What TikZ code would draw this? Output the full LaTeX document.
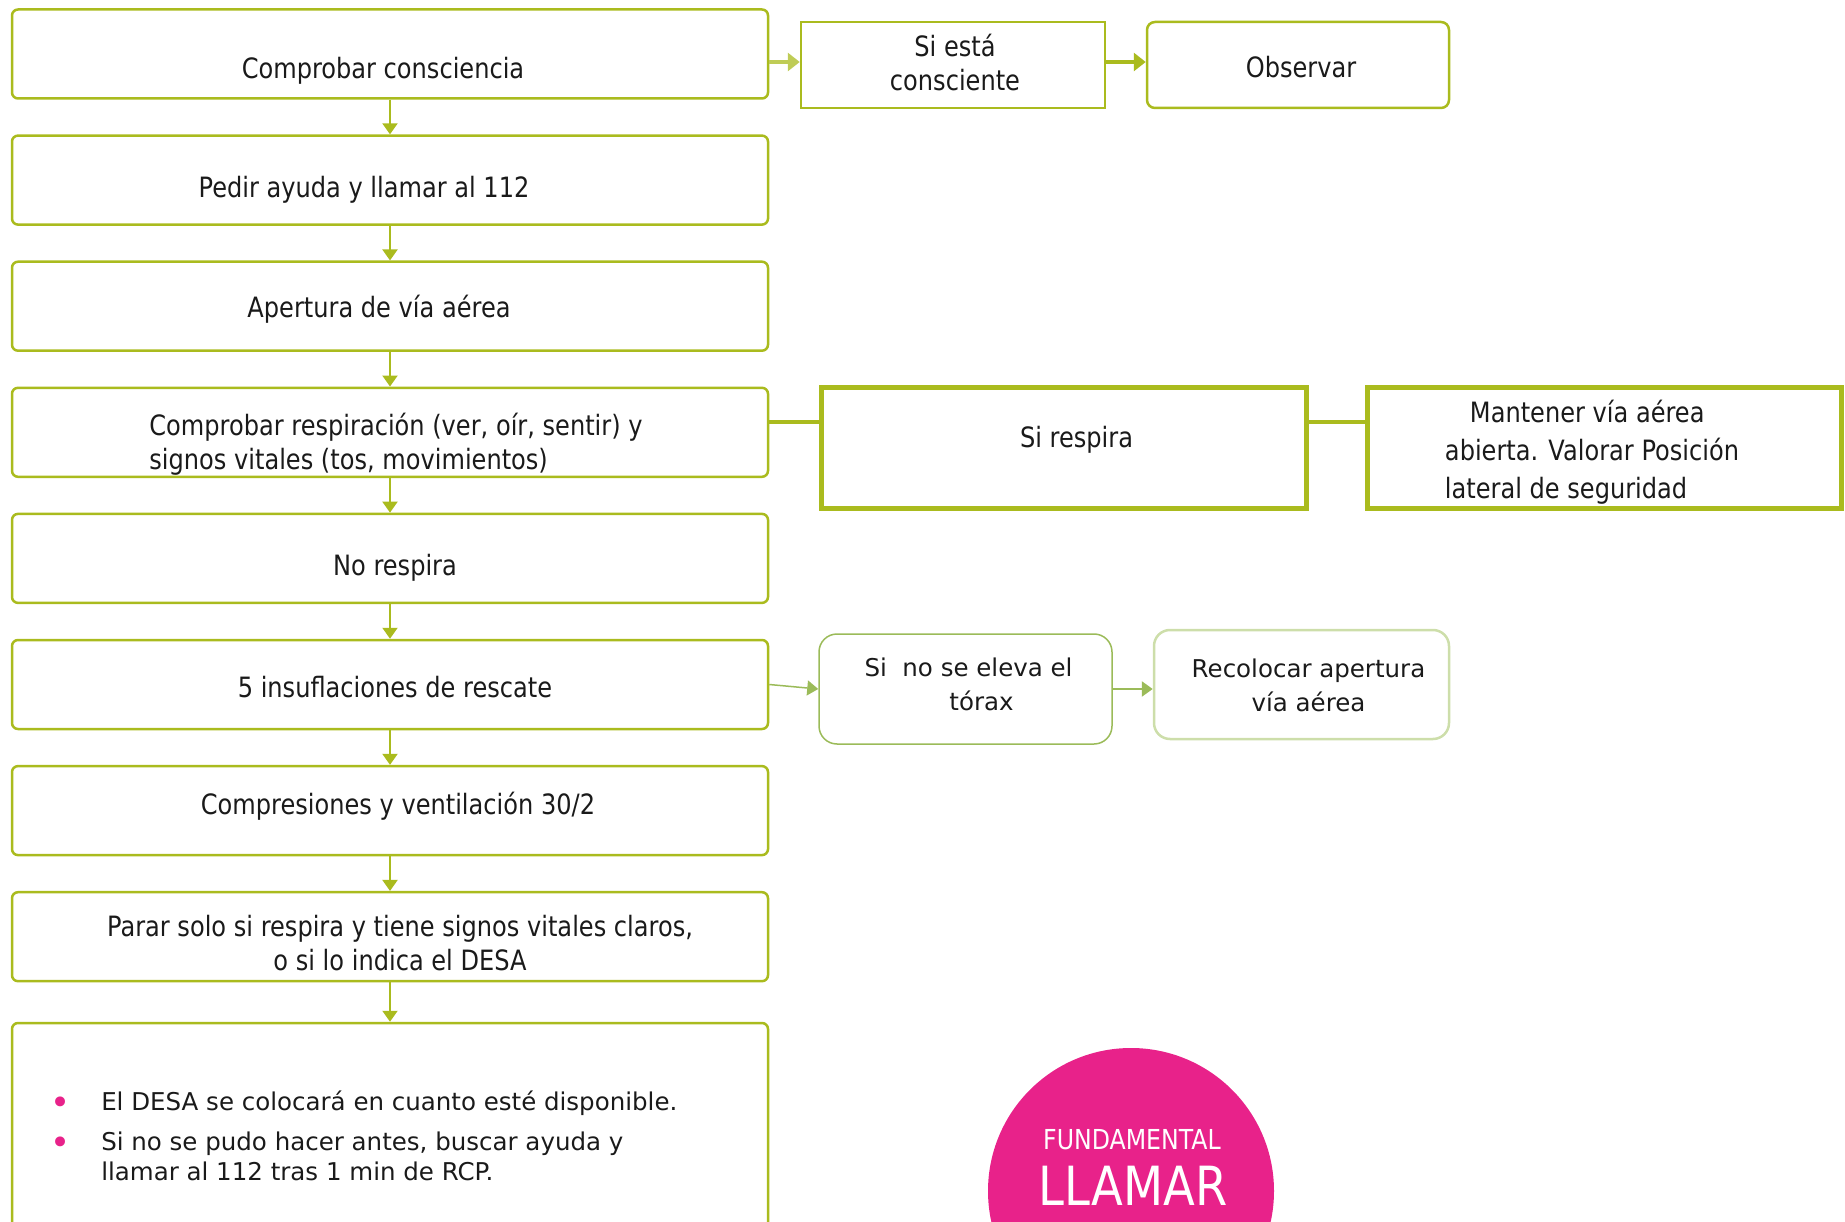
\documentclass[tikz,border=0pt]{standalone}
\usepackage{fontspec}
\setmainfont{DejaVu Sans}[FakeStretch=0.86]
\newfontfamily\widefont{DejaVu Sans}
\usetikzlibrary{arrows.meta}
\definecolor{olivebox}{RGB}{170,187,30}
\definecolor{lightbox}{RGB}{155,187,89}
\definecolor{paleedge}{RGB}{205,222,170}
\definecolor{rosa}{RGB}{232,34,138}
\definecolor{textc}{RGB}{26,26,26}
% move the text inside a box: #1 twice the x offset, #2 the raise
\newcommand{\ajuste}[3]{\raisebox{#2}[\height][\depth]{\hspace*{#1}#3}}
\newcommand{\punto}{\raisebox{-4.5pt}{\textcolor{rosa}{\fontsize{34}{30}\selectfont\textbullet}}}

\begin{document}
\begin{tikzpicture}[x=1pt,y=-1pt,>={Triangle[length=11pt,width=15pt]},node distance=126.1pt,
    main node/.style={draw=olivebox,line width=2.5pt,rounded corners=6pt,minimum width=756pt,minimum height=89pt,text=textc,font=\fontsize{28}{34}\selectfont},
    side node/.style={draw=olivebox,line width=2.5pt,text=textc,font=\fontsize{28}{34}\selectfont},
    soft node/.style={draw=lightbox,line width=1.5pt,rounded corners=18pt,text=textc,font=\widefont\fontsize{24.5}{34}\selectfont}]

    \useasboundingbox (0,0) rectangle (1845,1222);

    % main column
    \node[main node] (box1) at (390,54) {\ajuste{-14pt}{-16.5pt}{Comprobar consciencia}};
    \node[main node] (box2) [below of=box1] {\ajuste{-52pt}{-9.5pt}{Pedir ayuda y llamar al 112}};
    \node[main node] (box3) [below of=box2] {\ajuste{-22pt}{-3.5pt}{Apertura de vía aérea}};
    \node[main node] (box4) [below of=box3] {\ajuste{12pt}{-13pt}{\begin{tabular}{@{}l@{}}Comprobar respiración (ver, oír, sentir) y\\signos vitales (tos, movimientos)\end{tabular}}};
    \node[main node] (box5) [below of=box4] {\ajuste{10pt}{-9.5pt}{No respira}};
    \node[main node] (box6) [below of=box5] {\ajuste{10pt}{-2.5pt}{5 insuflaciones de rescate}};
    \node[main node] (box7) [below of=box6] {\ajuste{16pt}{4pt}{Compresiones y ventilación 30/2}};
    \node[main node] (box8) [below of=box7] {\ajuste{20pt}{-9.5pt}{\begin{tabular}{@{}c@{}}Parar solo si respira y tiene signos vitales claros,\\o si lo indica el DESA\end{tabular}}};
    \node[main node,minimum height=262pt] (box9) at (390,1154) {};

    \node[anchor=north west,font=\widefont\fontsize{24.5}{30}\selectfont,text=textc,inner sep=0pt] (notas) at (50,1089)
        {\begin{tabular}{@{}l@{\hspace{31pt}}l@{}}
            \punto & El DESA se colocará en cuanto esté disponible.\\[10pt]
            \punto & Si no se pudo hacer antes, buscar ayuda y\\
                   & llamar al 112 tras 1 min de RCP.
        \end{tabular}};

    % side branches
    \node[side node,minimum width=304pt,minimum height=86pt] (sie) at (953,65) {\ajuste{4pt}{-1.5pt}{\begin{tabular}{@{}c@{}}Si está\\consciente\end{tabular}}};
    \node[side node,rounded corners=8pt,minimum width=302pt,minimum height=86pt] (obs) at (1298,65) {\ajuste{6pt}{-2pt}{Observar}};
    \node[side node,line width=5pt,minimum width=485pt,minimum height=120pt] (resp) at (1063.5,448) {\ajuste{26pt}{8pt}{Si respira}};
    \node[side node,line width=5pt,minimum width=474pt,minimum height=120pt,font=\fontsize{28}{38}\selectfont] (mant) at (1604,448)
        {\ajuste{-24pt}{-5pt}{\begin{tabular}{@{}l@{}}\hspace*{25pt}Mantener vía aérea\\abierta. Valorar Posición\\lateral de seguridad\end{tabular}}};
    \node[soft node,minimum width=293pt,minimum height=110pt] (sino) at (965.5,689) {\ajuste{6pt}{2pt}{\begin{tabular}{@{}c@{}}Si\ \ no se eleva el\\\hspace*{26pt}tórax\end{tabular}}};
    \node[soft node,draw=paleedge,line width=2.5pt,rounded corners=16pt,minimum width=295pt,minimum height=109pt] (reco) at (1301.5,684.5) {\ajuste{14pt}{-3pt}{\begin{tabular}{@{}c@{}}Recolocar apertura\\vía aérea\end{tabular}}};

    % circle
    \node[circle,fill=rosa,minimum size=286pt] (circulo) at (1131,1191) {};
    \node[text=white,font=\fontsize{27.5}{30}\selectfont] (fund) at (1132,1140) {FUNDAMENTAL};
    \node[text=white,font=\fontsize{54}{60}\selectfont] (llamar) at (1133,1186) {LLAMAR};

    % connectors
    \foreach \a/\b in {box1/box2,box2/box3,box3/box4,box4/box5,box5/box6,box6/box7,box7/box8,box8/box9}
        \draw[->,olivebox,line width=2pt] (\a) -- (\b);

    \draw[->,olivebox!75,line width=4pt,>={Triangle[length=12pt,width=18pt]}] ([yshift=3pt]box1.east |- sie.west) -- ([yshift=3pt]sie.west);
    \draw[->,olivebox,line width=4pt,>={Triangle[length=12pt,width=18pt]}] ([yshift=3pt]sie.east) -- ([yshift=3pt]obs.west);
    \draw[olivebox,line width=4pt] ([yshift=10pt]box4.east) -- ([yshift=10pt]box4.east -| resp.west);
    \draw[olivebox,line width=4pt] ([yshift=10pt]box4.east -| resp.east) -- ([yshift=10pt]box4.east -| mant.west);
    \draw[->,lightbox,line width=1.5pt] (box6.east) -- (sino.west);
    \draw[->,lightbox,line width=2.5pt] (sino.east) -- (sino.east -| reco.west);
\end{tikzpicture}
\end{document}
